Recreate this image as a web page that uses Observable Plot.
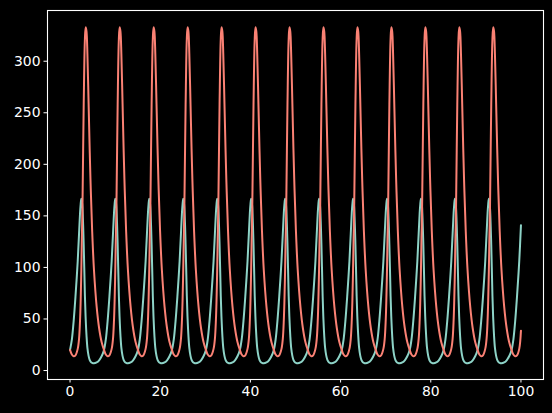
<!DOCTYPE html>
<html>
<head>
<meta charset="utf-8">
<script src="https://cdn.jsdelivr.net/npm/d3@7"></script>
<script src="https://cdn.jsdelivr.net/npm/@observablehq/plot@0.6"></script>
<style>
  html, body { margin: 0; padding: 0; background: #000; }
  #chart { width: 552px; height: 413px; overflow: hidden; }
</style>
</head>
<body>
<div id="chart"></div>
<script>
const time = [
  0, 0.4, 0.8, 1.2, 1.7, 2.0, 2.22, 2.35, 2.5, 2.62, 2.75, 3.03, 3.3, 3.47, 3.65, 3.85, 4.1, 4.35, 4.6, 4.9, 5.3, 5.9, 6.45, 7.0,
  7.53, 7.93, 8.33, 8.73, 9.23, 9.53, 9.75, 9.88, 10.03, 10.15, 10.28, 10.56, 10.83, 11.0, 11.18, 11.38, 11.63, 11.88, 12.13, 12.43, 12.83, 13.43, 13.98, 14.53,
  15.06, 15.46, 15.86, 16.26, 16.76, 17.06, 17.28, 17.41, 17.56, 17.68, 17.81, 18.09, 18.36, 18.53, 18.71, 18.91, 19.16, 19.41, 19.66, 19.96, 20.36, 20.96, 21.51, 22.06,
  22.6, 23.0, 23.4, 23.8, 24.3, 24.6, 24.82, 24.95, 25.1, 25.22, 25.35, 25.63, 25.9, 26.07, 26.25, 26.45, 26.7, 26.95, 27.2, 27.5, 27.9, 28.5, 29.05, 29.6,
  30.13, 30.53, 30.93, 31.33, 31.83, 32.13, 32.35, 32.48, 32.63, 32.75, 32.88, 33.16, 33.43, 33.6, 33.78, 33.98, 34.23, 34.48, 34.73, 35.03, 35.43, 36.03, 36.58, 37.13,
  37.66, 38.06, 38.46, 38.86, 39.36, 39.66, 39.88, 40.01, 40.16, 40.28, 40.41, 40.69, 40.96, 41.13, 41.31, 41.51, 41.76, 42.01, 42.26, 42.56, 42.96, 43.56, 44.11, 44.66,
  45.19, 45.59, 45.99, 46.39, 46.89, 47.19, 47.41, 47.54, 47.69, 47.81, 47.94, 48.22, 48.49, 48.66, 48.84, 49.04, 49.29, 49.54, 49.79, 50.09, 50.49, 51.09, 51.64, 52.19,
  52.72, 53.12, 53.52, 53.92, 54.42, 54.72, 54.94, 55.07, 55.22, 55.34, 55.47, 55.75, 56.02, 56.19, 56.37, 56.57, 56.82, 57.07, 57.32, 57.62, 58.02, 58.62, 59.17, 59.72,
  60.26, 60.66, 61.06, 61.46, 61.96, 62.26, 62.48, 62.61, 62.76, 62.88, 63.01, 63.29, 63.56, 63.73, 63.91, 64.11, 64.36, 64.61, 64.86, 65.16, 65.56, 66.16, 66.71, 67.26,
  67.79, 68.19, 68.59, 68.99, 69.49, 69.79, 70.01, 70.14, 70.29, 70.41, 70.54, 70.82, 71.09, 71.26, 71.44, 71.64, 71.89, 72.14, 72.39, 72.69, 73.09, 73.69, 74.24, 74.79,
  75.32, 75.72, 76.12, 76.52, 77.02, 77.32, 77.54, 77.67, 77.82, 77.94, 78.07, 78.35, 78.62, 78.79, 78.97, 79.17, 79.42, 79.67, 79.92, 80.22, 80.62, 81.22, 81.77, 82.32,
  82.85, 83.25, 83.65, 84.05, 84.55, 84.85, 85.07, 85.2, 85.35, 85.47, 85.6, 85.88, 86.15, 86.32, 86.5, 86.7, 86.95, 87.2, 87.45, 87.75, 88.15, 88.75, 89.3, 89.85,
  90.38, 90.78, 91.18, 91.58, 92.08, 92.38, 92.6, 92.73, 92.88, 93.0, 93.13, 93.41, 93.68, 93.85, 94.03, 94.23, 94.48, 94.73, 94.98, 95.28, 95.68, 96.28, 96.83, 97.38,
  97.92, 98.32, 98.72, 99.12, 99.62, 100
];

const prey = [
  20, 30, 48, 71.5, 106, 133, 153, 161, 166.5, 164, 158, 122, 72, 50, 34, 22, 14.5, 10.4, 8.4, 7.4, 7.0, 7.8, 9.9, 13.8,
  20, 30, 48, 71.5, 106, 133, 153, 161, 166.5, 164, 158, 122, 72, 50, 34, 22, 14.5, 10.4, 8.4, 7.4, 7.0, 7.8, 9.9, 13.8,
  20, 30, 48, 71.5, 106, 133, 153, 161, 166.5, 164, 158, 122, 72, 50, 34, 22, 14.5, 10.4, 8.4, 7.4, 7.0, 7.8, 9.9, 13.8,
  20, 30, 48, 71.5, 106, 133, 153, 161, 166.5, 164, 158, 122, 72, 50, 34, 22, 14.5, 10.4, 8.4, 7.4, 7.0, 7.8, 9.9, 13.8,
  20, 30, 48, 71.5, 106, 133, 153, 161, 166.5, 164, 158, 122, 72, 50, 34, 22, 14.5, 10.4, 8.4, 7.4, 7.0, 7.8, 9.9, 13.8,
  20, 30, 48, 71.5, 106, 133, 153, 161, 166.5, 164, 158, 122, 72, 50, 34, 22, 14.5, 10.4, 8.4, 7.4, 7.0, 7.8, 9.9, 13.8,
  20, 30, 48, 71.5, 106, 133, 153, 161, 166.5, 164, 158, 122, 72, 50, 34, 22, 14.5, 10.4, 8.4, 7.4, 7.0, 7.8, 9.9, 13.8,
  20, 30, 48, 71.5, 106, 133, 153, 161, 166.5, 164, 158, 122, 72, 50, 34, 22, 14.5, 10.4, 8.4, 7.4, 7.0, 7.8, 9.9, 13.8,
  20, 30, 48, 71.5, 106, 133, 153, 161, 166.5, 164, 158, 122, 72, 50, 34, 22, 14.5, 10.4, 8.4, 7.4, 7.0, 7.8, 9.9, 13.8,
  20, 30, 48, 71.5, 106, 133, 153, 161, 166.5, 164, 158, 122, 72, 50, 34, 22, 14.5, 10.4, 8.4, 7.4, 7.0, 7.8, 9.9, 13.8,
  20, 30, 48, 71.5, 106, 133, 153, 161, 166.5, 164, 158, 122, 72, 50, 34, 22, 14.5, 10.4, 8.4, 7.4, 7.0, 7.8, 9.9, 13.8,
  20, 30, 48, 71.5, 106, 133, 153, 161, 166.5, 164, 158, 122, 72, 50, 34, 22, 14.5, 10.4, 8.4, 7.4, 7.0, 7.8, 9.9, 13.8,
  20, 30, 48, 71.5, 106, 133, 153, 161, 166.5, 164, 158, 122, 72, 50, 34, 22, 14.5, 10.4, 8.4, 7.4, 7.0, 7.8, 9.9, 13.8,
  20, 30, 48, 71.5, 106, 141
];

const predator = [
  20, 15.5, 13.8, 14.7, 21, 31, 49, 67, 97, 129, 157, 258, 322, 333, 329, 307, 262, 215, 175, 136, 98, 62, 41, 27.7,
  20, 15.5, 13.8, 14.7, 21, 31, 49, 67, 97, 129, 157, 258, 322, 333, 329, 307, 262, 215, 175, 136, 98, 62, 41, 27.7,
  20, 15.5, 13.8, 14.7, 21, 31, 49, 67, 97, 129, 157, 258, 322, 333, 329, 307, 262, 215, 175, 136, 98, 62, 41, 27.7,
  20, 15.5, 13.8, 14.7, 21, 31, 49, 67, 97, 129, 157, 258, 322, 333, 329, 307, 262, 215, 175, 136, 98, 62, 41, 27.7,
  20, 15.5, 13.8, 14.7, 21, 31, 49, 67, 97, 129, 157, 258, 322, 333, 329, 307, 262, 215, 175, 136, 98, 62, 41, 27.7,
  20, 15.5, 13.8, 14.7, 21, 31, 49, 67, 97, 129, 157, 258, 322, 333, 329, 307, 262, 215, 175, 136, 98, 62, 41, 27.7,
  20, 15.5, 13.8, 14.7, 21, 31, 49, 67, 97, 129, 157, 258, 322, 333, 329, 307, 262, 215, 175, 136, 98, 62, 41, 27.7,
  20, 15.5, 13.8, 14.7, 21, 31, 49, 67, 97, 129, 157, 258, 322, 333, 329, 307, 262, 215, 175, 136, 98, 62, 41, 27.7,
  20, 15.5, 13.8, 14.7, 21, 31, 49, 67, 97, 129, 157, 258, 322, 333, 329, 307, 262, 215, 175, 136, 98, 62, 41, 27.7,
  20, 15.5, 13.8, 14.7, 21, 31, 49, 67, 97, 129, 157, 258, 322, 333, 329, 307, 262, 215, 175, 136, 98, 62, 41, 27.7,
  20, 15.5, 13.8, 14.7, 21, 31, 49, 67, 97, 129, 157, 258, 322, 333, 329, 307, 262, 215, 175, 136, 98, 62, 41, 27.7,
  20, 15.5, 13.8, 14.7, 21, 31, 49, 67, 97, 129, 157, 258, 322, 333, 329, 307, 262, 215, 175, 136, 98, 62, 41, 27.7,
  20, 15.5, 13.8, 14.7, 21, 31, 49, 67, 97, 129, 157, 258, 322, 333, 329, 307, 262, 215, 175, 136, 98, 62, 41, 27.7,
  20, 15.5, 13.8, 14.7, 21, 38.7
];

const xTicks = [0, 20, 40, 60, 80, 100];
const yTicks = [0, 50, 100, 150, 200, 250, 300];

const preyColor = "#8dd3c7";
const predatorColor = "#fa8174";

const rows = time.map((t, i) => ({t, prey: prey[i], predator: predator[i]}));

const chart = Plot.plot({
  width: 552,
  height: 413,
  marginLeft: 47,
  marginRight: 9,
  marginTop: 10,
  marginBottom: 34,
  style: {
    background: "#000",
    color: "#fff",
    fontFamily: "'DejaVu Sans', sans-serif",
    fontSize: "13.9px",
    overflow: "visible"
  },
  x: {domain: [-5, 105], label: null},
  y: {domain: [-8.7, 349.2], label: null},
  marks: [
    Plot.axisX(xTicks, {tickSize: 3.5, tickPadding: 3.5, fontSize: 13.9, label: null}),
    Plot.axisY(yTicks, {tickSize: 3.5, tickPadding: 3.5, fontSize: 13.9, label: null}),
    Plot.line(rows, {x: "t", y: "prey", stroke: preyColor, strokeWidth: 2, curve: "catmull-rom"}),
    Plot.line(rows, {x: "t", y: "predator", stroke: predatorColor, strokeWidth: 2, curve: "catmull-rom"}),
    Plot.frame({stroke: "#fff", strokeWidth: 1.1})
  ]
});

document.getElementById("chart").appendChild(chart);
</script>
</body>
</html>
